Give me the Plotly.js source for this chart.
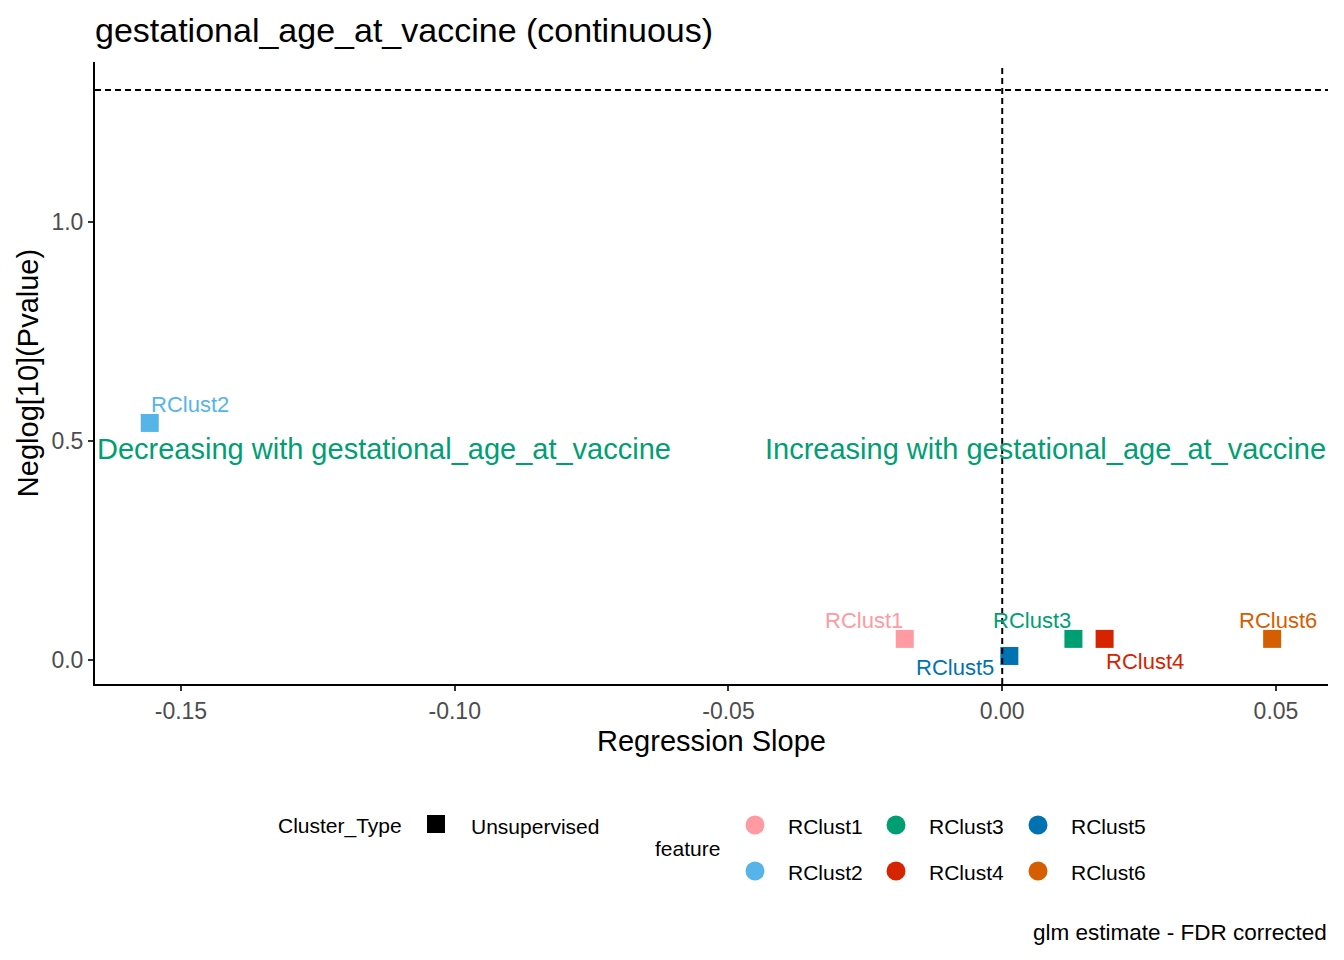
<!DOCTYPE html>
<html>
<head>
<meta charset="utf-8">
<script src="https://cdn.plot.ly/plotly-3.0.1.min.js"></script>
<style>
  body { margin: 0; background: #fff; }
  #chart { width: 1344px; height: 960px; }
</style>
</head>
<body>
<div id="chart"></div>
<script>
// values
const features = ["RClust1", "RClust2", "RClust3", "RClust4", "RClust5", "RClust6"];
const slope = [-0.0178, -0.1557, 0.0130, 0.0187, 0.0013, 0.0493];
const neglogP = [0.048, 0.541, 0.048, 0.048, 0.009, 0.048];
const xTicks = [-0.15, -0.10, -0.05, 0.00, 0.05];
const xTickText = ["-0.15", "-0.10", "-0.05", "0.00", "0.05"];
const yTicks = [0.0, 0.5, 1.0];
const yTickText = ["0.0", "0.5", "1.0"];
const sigLine = 1.30103; // -log10(0.05)

const colors = ["#FF9AA2", "#56B4E9", "#009E73", "#D62300", "#0072B2", "#D55E00"];
// ggrepel-like label offsets in px
const labelShift = [[-41, 18], [40, 18], [-41, 18], [40, -23], [-54, -12], [6, 18]];

const font = "Liberation Sans, Arial, sans-serif";
const xRange = [-0.1657, 0.0595];
const yRange = [-0.055, 1.365];

const W = 1344, H = 960;
const M = { l: 95, r: 16, t: 62, b: 276 };
// page pixels -> paper (plot area) fractions
const px = v => (v - M.l) / (W - M.l - M.r);
const py = v => (H - M.b - v) / (H - M.t - M.b);

const trace = {
  x: slope,
  y: neglogP,
  type: "scatter",
  mode: "markers",
  marker: { symbol: "square", size: 18, color: colors },
  hoverinfo: "skip",
  showlegend: false
};

const annotations = features.map((f, i) => ({
  x: slope[i], y: neglogP[i], xref: "x", yref: "y",
  text: f, showarrow: false,
  xshift: labelShift[i][0], yshift: labelShift[i][1],
  font: { family: font, size: 22, color: colors[i] }
}));

annotations.push(
  { x: xRange[0], y: 0.5, xref: "x", yref: "y", xanchor: "left", yanchor: "middle", yshift: -8,
    text: "Decreasing with gestational_age_at_vaccine", showarrow: false,
    font: { family: font, size: 29, color: "#009E73" } },
  { x: xRange[1], y: 0.5, xref: "x", yref: "y", xanchor: "right", yanchor: "middle", yshift: -8,
    text: "Increasing with gestational_age_at_vaccine", showarrow: false,
    font: { family: font, size: 29, color: "#009E73" } },
  { x: px(1329), y: py(933), xref: "paper", yref: "paper", xanchor: "right", yanchor: "middle",
    text: "glm estimate - FDR corrected", showarrow: false,
    font: { family: font, size: 22.5, color: "#000" } }
);

// legend (drawn by hand, ggplot style)
const legendText = (x, y, t) => ({
  x: px(x), y: py(y), xref: "paper", yref: "paper", xanchor: "left", yanchor: "middle",
  text: t, showarrow: false, font: { family: font, size: 21, color: "#000" }
});
annotations.push(legendText(276, 826, "Cluster_Type"));
annotations.push(legendText(469, 826, "Unsupervised"));
annotations.push(legendText(653, 849, "feature"));

const shapes = [
  { type: "line", xref: "x", yref: "paper", x0: 0, x1: 0, y0: 0, y1: py(68),
    line: { color: "#000", width: 2, dash: "6px,4px" } },
  { type: "line", xref: "paper", yref: "y", x0: 0, x1: 1, y0: sigLine, y1: sigLine,
    line: { color: "#000", width: 2, dash: "6px,4px" } },
  { type: "rect", xref: "paper", yref: "paper", x0: px(427), x1: px(445), y0: py(833), y1: py(815),
    fillcolor: "#000", line: { width: 0 } }
];

const legendCols = [755, 896, 1038];
const legendRows = [825, 871];
features.forEach((f, i) => {
  const cx = legendCols[Math.floor(i / 2)];
  const cy = legendRows[i % 2];
  shapes.push({ type: "circle", xref: "paper", yref: "paper",
    x0: px(cx - 9.5), x1: px(cx + 9.5), y0: py(cy + 9.5), y1: py(cy - 9.5),
    fillcolor: colors[i], line: { width: 0 } });
  annotations.push(legendText(cx + 31, cy + 1, f));
});

const layout = {
  width: W, height: H,
  margin: M,
  paper_bgcolor: "#fff", plot_bgcolor: "#fff",
  font: { family: font, color: "#000" },
  title: { text: "gestational_age_at_vaccine (continuous)", x: 95 / W, xanchor: "left",
    y: 1 - 30 / H, yanchor: "middle", font: { family: font, size: 34, color: "#000" } },
  xaxis: {
    range: xRange, tickvals: xTicks, ticktext: xTickText,
    showgrid: false, zeroline: false, showline: true, linecolor: "#000", linewidth: 2,
    ticks: "outside", ticklen: 5, tickwidth: 2, tickcolor: "#333",
    tickfont: { family: font, size: 23, color: "#4D4D4D" },
    title: { text: "Regression Slope", font: { family: font, size: 29, color: "#000" }, standoff: 8 }
  },
  yaxis: {
    range: yRange, tickvals: yTicks, ticktext: yTickText,
    showgrid: false, zeroline: false, showline: true, linecolor: "#000", linewidth: 2,
    ticks: "outside", ticklen: 5, tickwidth: 2, tickcolor: "#333",
    tickfont: { family: font, size: 23, color: "#4D4D4D" },
    title: { text: "Neglog[10](Pvalue)", font: { family: font, size: 29, color: "#000" }, standoff: 4 }
  },
  annotations: annotations,
  shapes: shapes,
  showlegend: false
};

Plotly.newPlot("chart", [trace], layout, { displayModeBar: false, staticPlot: true });
</script>
</body>
</html>
